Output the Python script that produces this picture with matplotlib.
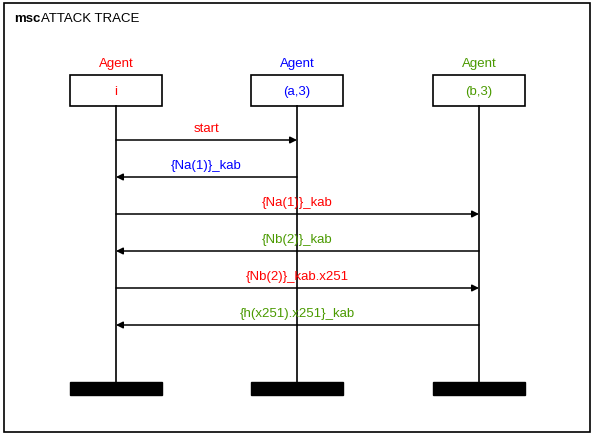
import matplotlib.pyplot as plt
from matplotlib.patches import Rectangle

plt.rcParams['font.family'] = ['Liberation Sans', 'DejaVu Sans']

RED = '#ff0000'
BLUE = '#0000ff'
GREEN = '#4a9a00'

agent_names = ['i', '(a,3)', '(b,3)']
agent_colors = [RED, BLUE, GREEN]
agent_x = [116, 297, 479]

# (from agent, to agent, label, colour)
msg_from = [0, 1, 0, 2, 0, 2]
msg_to = [1, 0, 2, 0, 2, 0]
msg_labels = ['start', '{Na(1)}_kab', '{Na(1)}_kab', '{Nb(2)}_kab',
              '{Nb(2)}_kab.x251', '{h(x251).x251}_kab']
msg_colors = [RED, BLUE, RED, GREEN, RED, GREEN]

fig = plt.figure(figsize=(5.95, 4.39), dpi=100)
ax = fig.add_axes([0, 0, 1, 1])
ax.set_xlim(0, 595)
ax.set_ylim(439, 0)
ax.axis('off')

# frame
ax.add_patch(Rectangle((4, 4), 586, 429, fill=False, edgecolor='black', lw=1.2))
ax.text(14, 19, 'msc', fontsize=9.5, fontweight='bold', va='center', ha='left')
ax.text(41, 19, 'ATTACK TRACE', fontsize=9.5, va='center', ha='left')

box_w, box_top, box_bot = 92, 76, 107
end_top, end_h = 383, 13
for name, col, x in zip(agent_names, agent_colors, agent_x):
    ax.text(x, 64, 'Agent', color=col, fontsize=9.5, ha='center', va='center')
    ax.add_patch(Rectangle((x - box_w / 2, box_top), box_w, box_bot - box_top,
                           fill=False, edgecolor='black', lw=1.2))
    ax.text(x, 92, name, color=col, fontsize=9.5, ha='center', va='center')
    ax.plot([x, x], [box_bot, end_top], color='black', lw=1.2)
    ax.add_patch(Rectangle((x - box_w / 2, end_top), box_w, end_h,
                           facecolor='black', edgecolor='black'))

y0, dy = 141, 37
for k, (a, b, lab, col) in enumerate(zip(msg_from, msg_to, msg_labels, msg_colors)):
    y = y0 + k * dy
    xa, xb = agent_x[a], agent_x[b]
    ax.annotate('', xy=(xb, y), xytext=(xa, y),
                arrowprops=dict(arrowstyle='-|>', color='black', lw=1.1,
                                mutation_scale=10, shrinkA=0, shrinkB=0))
    ax.text((xa + xb) / 2, y - 12, lab, color=col, fontsize=9.5,
            ha='center', va='center')

fig.savefig('out.png', dpi=100, facecolor='white')
